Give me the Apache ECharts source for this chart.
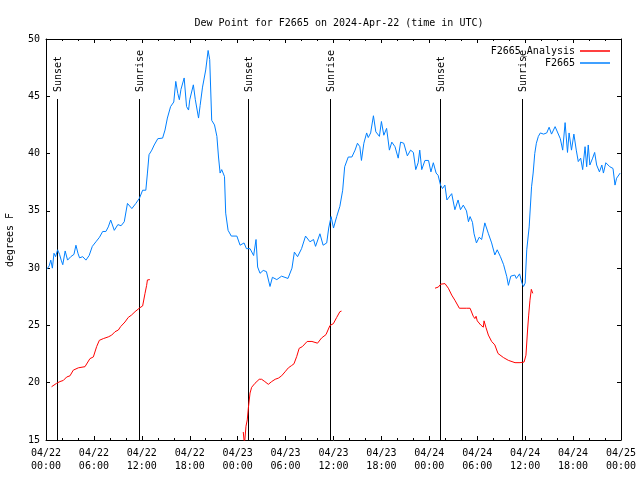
<!DOCTYPE html>
<html>
<head>
<meta charset="utf-8">
<script src="https://cdn.jsdelivr.net/npm/echarts@6/dist/echarts.min.js"></script>
<style>html,body{margin:0;padding:0;background:#fff}#c{width:640px;height:480px}</style>
</head>
<body>
<div id="c"></div>
<script>
// ---- data (hours since 2024-04-22 00:00 UTC) ----
const titleText = 'Dew Point for F2665 on 2024-Apr-22 (time in UTC)';
const yTicks = [15, 20, 25, 30, 35, 40, 45, 50];
const xTickHours = [0, 6, 12, 18, 24, 30, 36, 42, 48, 54, 60, 66, 72];

const obsTimes = [0.1,0.4,0.6,0.8,1.0,1.2,1.45,1.7,1.9,2.1,2.4,2.7,3.1,3.5,3.75,4.0,4.2,4.6,5.0,5.4,5.8,6.25,6.7,7.1,7.5,7.8,8.1,8.55,9.0,9.4,9.8,10.2,10.75,11.25,11.7,12.1,12.5,12.7,12.9,13.25,13.55,14.0,14.6,14.9,15.2,15.6,16.0,16.25,16.5,16.7,16.9,17.3,17.6,17.85,18.0,18.45,18.7,19.1,19.3,19.6,19.8,20.0,20.3,20.5,20.75,21.1,21.4,21.6,21.8,22.0,22.35,22.5,22.8,23.2,23.9,24.3,24.8,25.1,25.55,26.0,26.3,26.5,26.8,27.2,27.6,28.05,28.35,28.9,29.5,30.3,30.8,31.1,31.5,32.0,32.5,33.05,33.5,33.75,34.3,34.7,35.15,35.4,35.7,36.0,36.4,36.8,37.15,37.4,37.85,38.3,38.7,39.0,39.3,39.5,39.8,40.15,40.35,40.65,41.0,41.3,41.75,42.0,42.3,42.65,43.0,43.3,43.7,44.1,44.4,44.8,45.25,45.65,46.0,46.3,46.6,46.8,47.05,47.45,47.9,48.2,48.5,48.85,49.1,49.4,49.65,49.95,50.2,50.4,50.8,51.2,51.6,51.9,52.25,52.65,52.9,53.1,53.4,53.6,53.9,54.25,54.55,54.95,55.4,55.8,56.2,56.5,56.9,57.3,57.7,57.9,58.2,58.7,58.9,59.3,59.6,59.8,60.0,60.2,60.5,60.8,61.0,61.2,61.4,61.65,61.9,62.3,62.7,63.0,63.3,63.75,64.0,64.4,64.7,65.0,65.3,65.5,65.8,66.1,66.4,66.65,66.95,67.2,67.5,67.7,67.9,68.1,68.45,68.7,68.95,69.3,69.6,69.8,70.1,70.6,71.0,71.25,71.45,71.9];
const obsValues = [29.9,30.2,30.7,30.0,31.3,31.0,31.6,31.2,30.7,30.3,31.5,30.7,31.0,31.2,32.0,31.3,30.9,31.0,30.7,31.1,31.9,32.3,32.7,33.2,33.2,33.6,34.2,33.3,33.8,33.7,34.05,35.65,35.2,35.65,36.1,36.8,36.8,38.3,39.9,40.3,40.75,41.3,41.35,42.05,43.1,44.1,44.5,46.3,45.25,44.7,45.6,46.6,44.1,43.8,44.7,46.0,44.7,43.1,44.2,45.8,45.8,47.3,49.0,48.2,42.9,42.5,41.5,39.7,38.3,38.6,38.0,34.8,33.3,32.8,32.8,32.0,32.2,31.7,31.7,31.1,32.5,30.1,29.55,29.8,29.7,28.4,29.2,29.0,29.3,29.1,30.0,31.4,31.0,31.7,32.8,32.3,32.5,31.9,33.0,32.0,32.2,33.5,34.5,33.5,34.5,35.4,36.8,38.85,39.7,39.7,40.3,40.9,40.6,39.4,40.9,41.8,41.4,41.8,43.3,41.9,41.5,42.8,41.6,42.2,40.3,41.0,40.6,39.6,41.0,40.9,39.8,40.3,40.1,38.6,39.2,40.3,38.6,39.4,39.4,38.4,39.2,38.3,38.1,37.25,36.95,37.25,35.95,35.8,36.5,35.1,35.95,35.1,35.5,35.0,34.05,34.5,34.0,33.0,32.2,32.7,32.5,33.95,33.0,32.2,31.15,31.6,31.0,30.3,29.25,28.5,29.3,29.4,29.1,29.5,28.7,28.4,28.7,31.6,33.6,37.1,38.3,40.0,40.9,41.5,41.8,41.7,41.8,42.3,41.7,42.35,42.35,41.3,40.3,42.7,40.1,41.8,40.3,41.7,40.3,39.3,39.6,38.6,40.6,38.85,40.75,39.0,39.6,40.1,39.0,38.4,39.0,38.3,39.2,38.85,38.7,37.25,37.85,38.3];

// analysis series; null marks a gap between runs
const anaTimes = [0.7,0.9,1.33,1.75,2.17,2.59,3.0,3.42,4.05,4.88,5.5,5.93,6.34,6.68,7.18,7.8,8.22,8.64,9.06,9.35,9.89,10.3,10.7,11.15,11.77,12.1,12.4,12.6,12.7,13.0,
  18.0,
  24.7,24.85,25.04,25.2,25.34,25.55,25.75,26.17,26.7,27.0,27.4,27.84,28.26,28.7,29.1,29.5,29.93,30.35,30.76,31.05,31.4,31.7,32.1,32.7,33.3,34.0,34.5,35.06,35.56,35.98,36.4,36.8,37.0,
  42.0,
  48.71,49.13,49.42,49.96,50.38,50.8,51.2,51.76,52.68,53.1,53.5,53.7,53.85,54.0,54.43,54.76,54.85,55.1,55.39,55.8,56.2,56.6,57.27,57.9,58.73,59.35,59.86,60.1,60.3,60.44,60.6,60.77,60.95];
const anaValues = [19.65,19.5,19.95,20.1,20.2,20.5,20.6,21.1,21.3,21.4,22.1,22.25,23.15,23.7,23.85,24.0,24.15,24.45,24.6,24.9,25.3,25.7,25.9,26.2,26.55,26.7,27.8,28.5,28.97,29.0,
  null,
  15.7,14.6,16.2,16.75,17.8,19.1,19.6,19.95,20.3,20.3,20.1,19.86,20.1,20.3,20.4,20.6,20.95,21.3,21.5,21.65,22.3,23.0,23.15,23.6,23.6,23.45,23.9,24.2,25.0,25.15,25.7,26.2,26.25,
  null,
  28.25,28.35,28.6,28.65,28.25,27.65,27.2,26.5,26.5,26.5,25.8,25.6,25.8,25.4,25.04,24.85,25.4,24.8,24.16,23.6,23.3,22.55,22.2,21.95,21.75,21.75,21.8,22.4,24.6,25.9,27.2,28.15,27.8];

const sunTimes = [1.34, 11.69, 25.34, 35.6, 49.37, 59.64];
const sunLabels = ['Sunset', 'Sunrise', 'Sunset', 'Sunrise', 'Sunset', 'Sunrise'];
const sunLineTop = 44.75;

// ---- chart ----
const FONT = 'DejaVu Sans Mono';
const pad = n => (n < 10 ? '0' : '') + n;
function fmtHour(h) {
  const day = 22 + Math.floor(h / 24);
  const hh = Math.round(h % 24);
  return '04/' + pad(day) + '\n' + pad(hh) + ':00';
}
const obsData = obsTimes.map((t, i) => [t, obsValues[i]]);
const anaData = anaTimes.map((t, i) => [t, anaValues[i] === null ? '-' : anaValues[i]]);

const axisCommon = {
  type: 'value',
  axisLine: { show: true, onZero: false, lineStyle: { color: '#000', width: 1 } },
  splitLine: { show: false }
};

const chart = echarts.init(document.getElementById('c'), null, { renderer: 'canvas' });
chart.setOption({
  animation: false,
  backgroundColor: '#fff',
  title: {
    text: titleText, left: 334, top: 13, textAlign: 'center',
    textStyle: { fontFamily: FONT, fontSize: 10, fontWeight: 'normal', color: '#000' }
  },
  legend: {
    orient: 'vertical', right: 25, top: 41, align: 'right',
    icon: 'rect', itemWidth: 30, itemHeight: 1.5, itemGap: 2,
    textStyle: { fontFamily: FONT, fontSize: 10, color: '#000', lineHeight: 10 },
    data: ['F2665_Analysis', 'F2665']
  },
  grid: { left: 46, right: 19, top: 39, bottom: 40, containLabel: false },
  xAxis: [
    Object.assign({}, axisCommon, {
      min: 0, max: 72, interval: 6, position: 'bottom',
      axisTick: { show: true, inside: true, length: 4, lineStyle: { color: '#000' } },
      minorTick: { show: true, splitNumber: 3, length: 2, lineStyle: { color: '#000' } },
      axisLabel: {
        show: true, margin: 7, fontFamily: FONT, fontSize: 10, color: '#000', lineHeight: 13,
        showMinLabel: true, showMaxLabel: true, hideOverlap: false,
        formatter: v => fmtHour(v)
      }
    }),
    Object.assign({}, axisCommon, {
      min: 0, max: 72, interval: 6, position: 'top',
      axisTick: { show: true, inside: true, length: 4, lineStyle: { color: '#000' } },
      minorTick: { show: true, splitNumber: 3, length: 2, lineStyle: { color: '#000' } },
      axisLabel: { show: false }
    })
  ],
  yAxis: [
    Object.assign({}, axisCommon, {
      min: yTicks[0], max: yTicks[yTicks.length - 1], interval: 5, position: 'left',
      axisTick: { show: true, inside: true, length: 4, lineStyle: { color: '#000' } },
      axisLabel: { show: true, margin: 6, fontFamily: FONT, fontSize: 10, color: '#000',
        showMinLabel: true, showMaxLabel: true }
    }),
    Object.assign({}, axisCommon, {
      min: yTicks[0], max: yTicks[yTicks.length - 1], interval: 5, position: 'right',
      axisTick: { show: true, inside: true, length: 4, lineStyle: { color: '#000' } },
      axisLabel: { show: false }
    })
  ],
  graphic: [{
    type: 'text', x: 10, y: 240, rotation: Math.PI / 2,
    style: { text: 'degrees F', font: '10px ' + FONT, fill: '#000', align: 'center', verticalAlign: 'middle' }
  }],
  series: [
    {
      type: 'custom', name: 'sun', silent: true, clip: true,
      data: sunTimes.map(t => [t, sunLineTop]),
      encode: { x: 0, y: 1 },
      renderItem: function (params, api) {
        const t = api.value(0);
        const top = api.coord([t, sunLineTop]);
        const bot = api.coord([t, 15]);
        const x = Math.round(top[0]) + 0.5;
        return {
          type: 'group',
          children: [
            { type: 'line', shape: { x1: x, y1: Math.round(top[1]), x2: x, y2: bot[1] },
              style: { stroke: '#000', lineWidth: 1 } },
            { type: 'text', x: x + 0.5, y: Math.round(top[1]) - 7, rotation: Math.PI / 2,
              style: { text: sunLabels[params.dataIndex], font: '10px ' + FONT, fill: '#000',
                align: 'left', verticalAlign: 'middle' } }
          ]
        };
      }
    },
    {
      type: 'line', name: 'F2665_Analysis', data: anaData, showSymbol: false, connectNulls: false,
      clip: true, color: '#ff0000', lineStyle: { color: '#ff0000', width: 1 }
    },
    {
      type: 'line', name: 'F2665', data: obsData, showSymbol: false,
      clip: true, color: '#0080ff', lineStyle: { color: '#0080ff', width: 1 }
    }
  ]
});
</script>
</body>
</html>
